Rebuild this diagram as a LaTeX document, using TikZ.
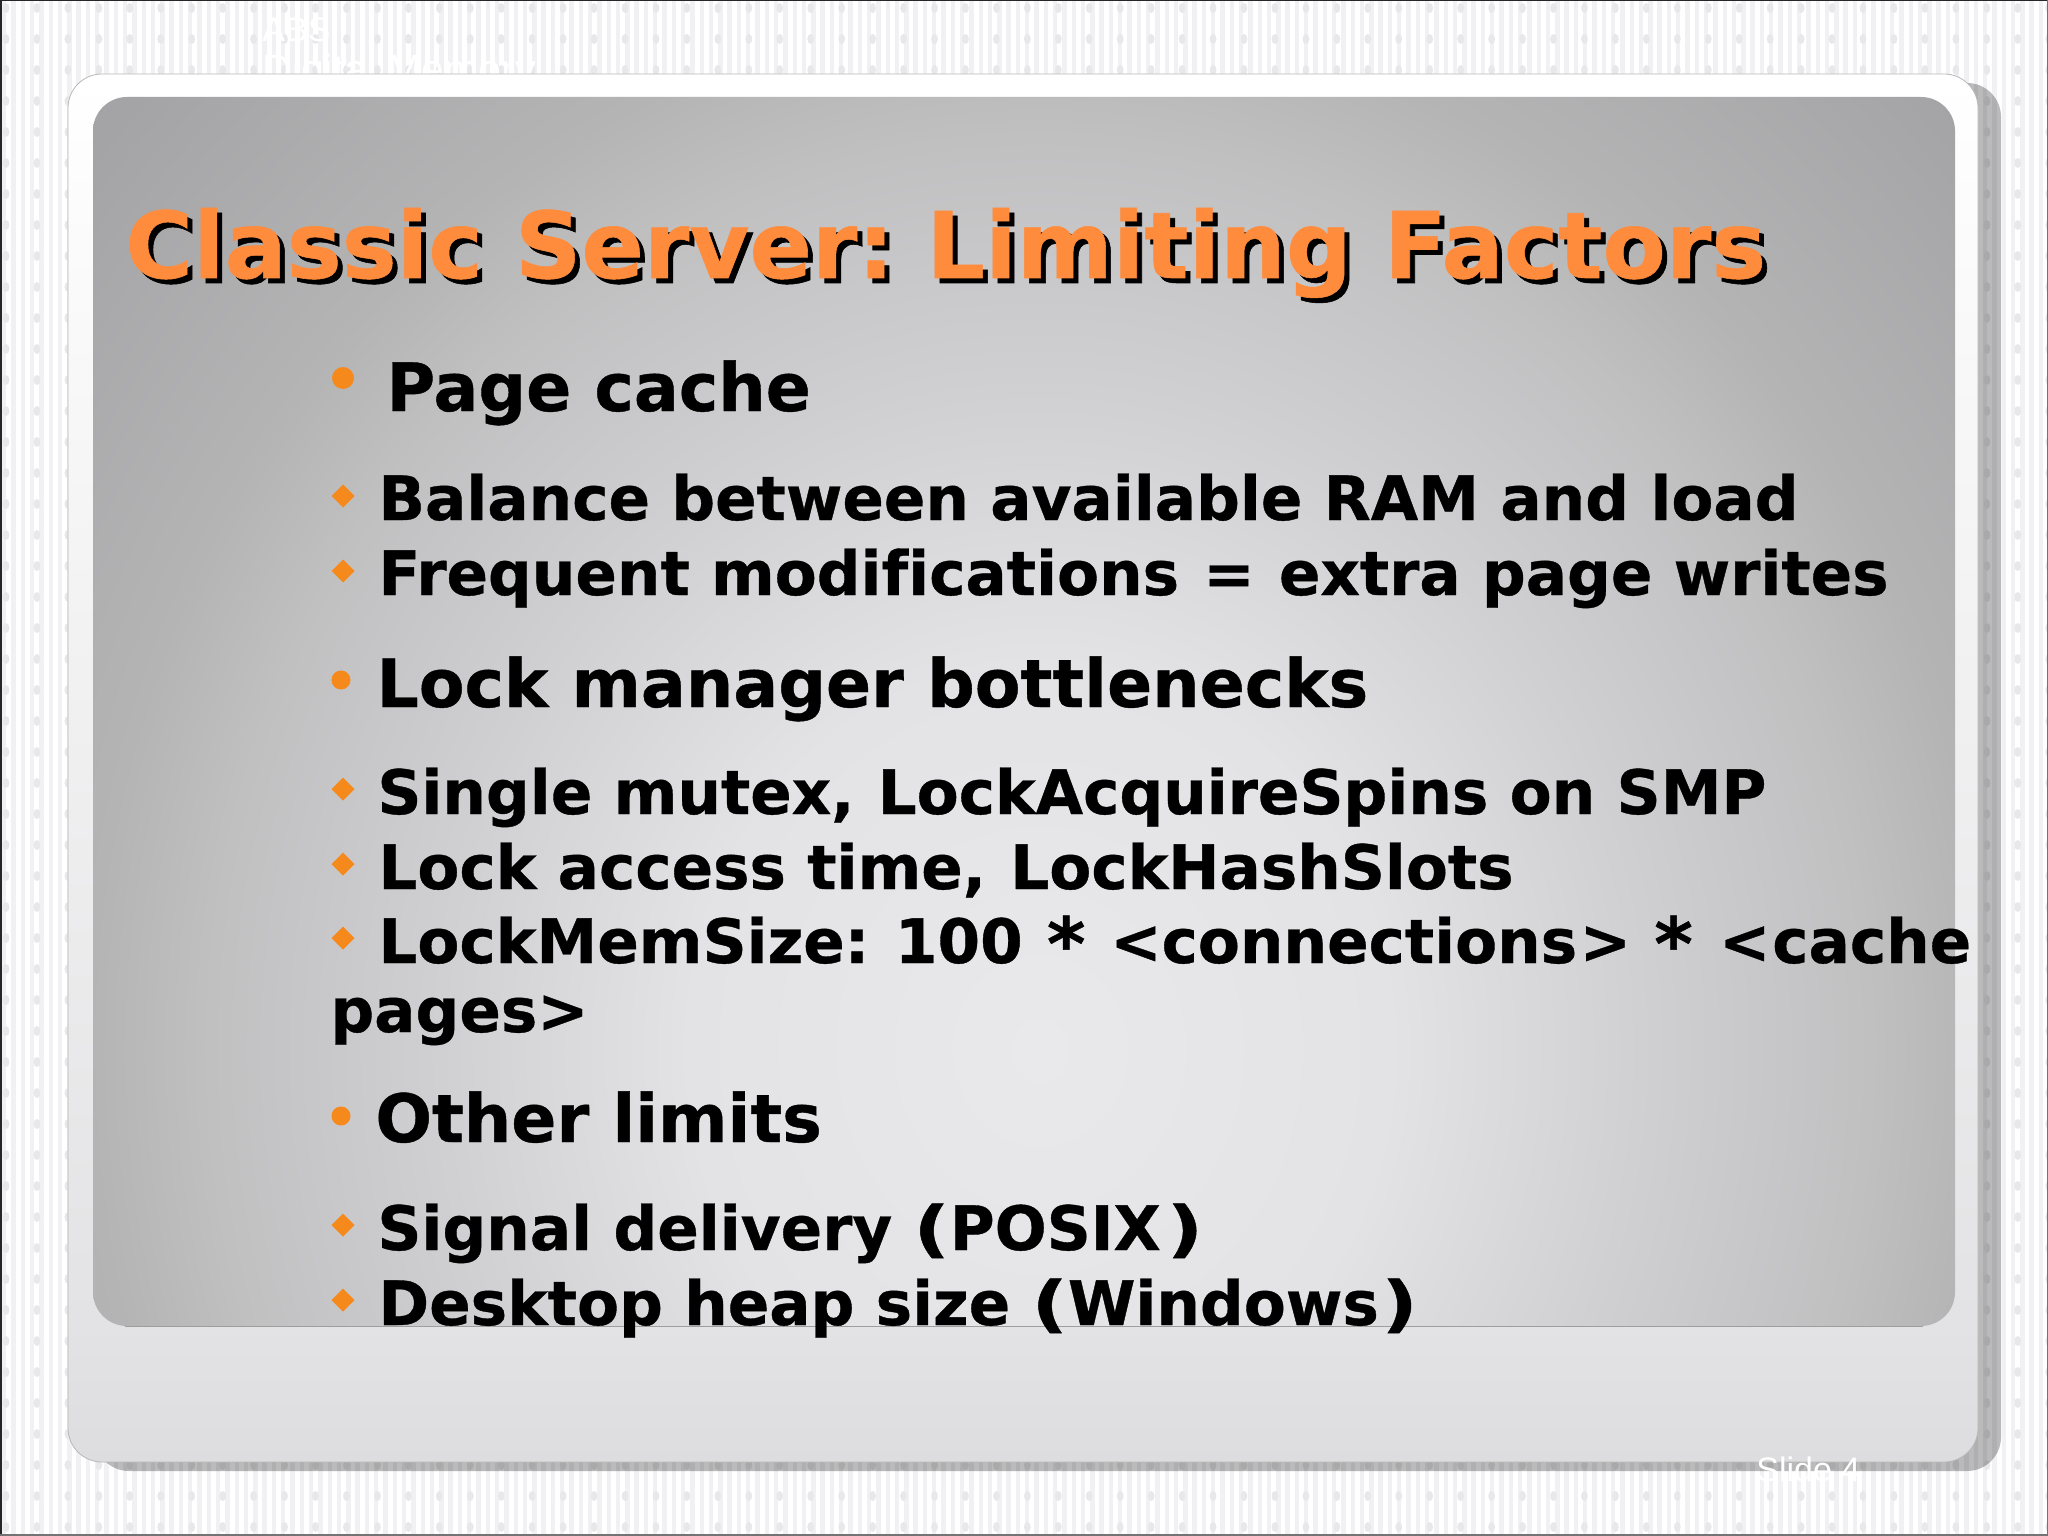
\documentclass[tikz,border=0pt]{standalone}
\usepackage{fontspec}
\setmainfont[Ligatures=NoCommon,BoldFeatures={FakeBold=0.6}]{DejaVu Sans}
\newfontfamily\footfont{Liberation Sans}
\definecolor{bulletor}{HTML}{F6891B}
\definecolor{titleor}{HTML}{FF8C3C}
\definecolor{stripe}{HTML}{F1F1F3}
\definecolor{dotc}{HTML}{E8E8EA}
\definecolor{ia}{HTML}{E9E8EB}
\definecolor{ib}{HTML}{E3E2E5}
\definecolor{ic}{HTML}{D0CFD2}
\definecolor{id}{HTML}{C0C0C1}
\definecolor{ie}{HTML}{B4B4B5}
\definecolor{if}{HTML}{A4A4A6}
\definecolor{oa}{HTML}{DDDCDE}
\definecolor{ob}{HTML}{E3E2E4}
\pgfdeclareradialshading{innerpanel}{\pgfpointorigin}{color(0bp)=(ia);color(8.75bp)=(ib);color(15bp)=(ic);color(20.75bp)=(id);color(23.75bp)=(ie);color(31.25bp)=(if);color(50bp)=(if)}
\pgfdeclareverticalshading{outerpanel}{100bp}{color(0bp)=(oa);color(25bp)=(oa);color(30bp)=(ob);color(75bp)=(white);color(100bp)=(white)}
\tikzset{
  lvone/.style={anchor=base west,inner sep=0pt,font=\fontsize{33.3}{33.3}\selectfont\bfseries,text=black},
  lvtwo/.style={anchor=base west,inner sep=0pt,font=\fontsize{30.6}{30.6}\selectfont\bfseries,text=black},
  titletext/.style={anchor=base west,inner sep=0pt,font=\fontsize{46.1}{46.1}\selectfont\bfseries},
  whitenote/.style={anchor=base west,inner sep=0pt,text=white,font=\footfont\fontsize{17}{17}\selectfont},
  dia/.style={fill=bulletor,draw=none},
  dot/.style={fill=bulletor,draw=none}
}
\newcommand{\diamondat}[2]{\fill[dia] (#1-11.5,#2) -- (#1,#2-11.5) -- (#1+11.5,#2) -- (#1,#2+11.5) -- cycle;}
\newcommand{\wpar}[1]{\scalebox{1.3}[1]{#1}}
\newcommand{\wstar}{\raisebox{-3.5pt}{\scalebox{1.2}{*}}}
\frenchspacing
\begin{document}
\begin{tikzpicture}[x=0.5pt,y=-0.5pt]
\useasboundingbox (0,0) rectangle (2048,1535);
% wallpaper
\fill[white] (0,0) rectangle (2048,1535);
\foreach \k in {0,...,220}{
  \fill[stripe] ({2+9.3*\k},0) rectangle ({6.4+9.3*\k},1535);
}
\foreach \i in {0,...,66}{
  \foreach \j in {0,...,49}{
    \fill[dotc] ({6+30.95*\i},{8+31*\j}) ellipse (3.4 and 5);
  }
}
\draw[black!85,line width=1.5pt] (0,1535) -- (0,0) -- (2048,0);
\draw[black!55,line width=.6pt] (2048,0) -- (2048,1535) -- (0,1535);
% header text, partly behind the panel
\node[whitenote] (hdrone) at (262,42) {ABS};
\node[whitenote,font=\footfont\fontsize{20.5}{20.5}\selectfont] (hdrtwo) at (262,84) {Digital Memory};
% shadow
\fill[black,opacity=.27,rounded corners=17pt] (95,83) rectangle (2001,1471);
% outer panel
\path[shading=outerpanel,rounded corners=17pt,draw=black!28,line width=.4pt] (68,74) rectangle (1978,1462);
% inner panel
\begin{scope}
  \clip[rounded corners=17pt] (93,97) rectangle (1955,1326);
  \path[shading=innerpanel] (40,-50) rectangle (2040,2150);
\end{scope}
\draw[black!38,line width=.5pt] (125,1326) -- (1923,1326);
% title
\node[titletext,text=black] (titleshadow) at (130,283) {Classic Server: Limiting Factors};
\node[titletext,text=titleor] (titlefront) at (125,278) {Classic Server: Limiting Factors};
% bullets
\fill[dot] (343,378) circle (11);
\fill[dot] (341,680) circle (9.5);
\fill[dot] (341,1116) circle (9.5);
\diamondat{343}{496}
\diamondat{343}{571}
\diamondat{343}{789}
\diamondat{343}{864}
\diamondat{343}{938}
\diamondat{343}{1225}
\diamondat{343}{1300}
% body
\node[lvone] (pagecache) at (386,411) {Page cache};
\node[lvtwo] (balance) at (378,520) {Balance between available RAM and load};
\node[lvtwo] (frequent) at (378,595) {Frequent modifications \kern1.5pt{}=\kern1.5pt{} extra page writes};
\node[lvone] (lockman) at (376,707) {Lock manager bottlenecks};
\node[lvtwo] (single) at (377,814) {Single mutex,\kern1pt{} LockAcquireSpins on SMP};
\node[lvtwo] (lockaccess) at (378,889) {Lock access time,\kern1.5pt{} LockHashSlots};
\node[lvtwo] (lockmem) at (378,963) {LockMemSize:\kern2.2pt{} 100\kern1.5pt{} \wstar\kern1pt{} \kern.8pt<connections\kern1.3pt>\kern1pt{} \wstar\kern1pt{} \kern1.5pt<\kern1pt{}cache};
\node[lvtwo] (pages) at (330,1032) {pages>};
\node[lvone] (other) at (375,1142) {Other limits};
\node[lvtwo] (signal) at (377,1250) {Signal delivery \wpar{(}POSIX\kern3pt\wpar{)}};
\node[lvtwo] (desktop) at (378,1325) {Desktop heap size \wpar{(}Windows\kern1.3pt\wpar{)}};
% footer
\node[whitenote] (slidenum) at (1756,1481) {Slide 4};
\end{tikzpicture}
\end{document}
